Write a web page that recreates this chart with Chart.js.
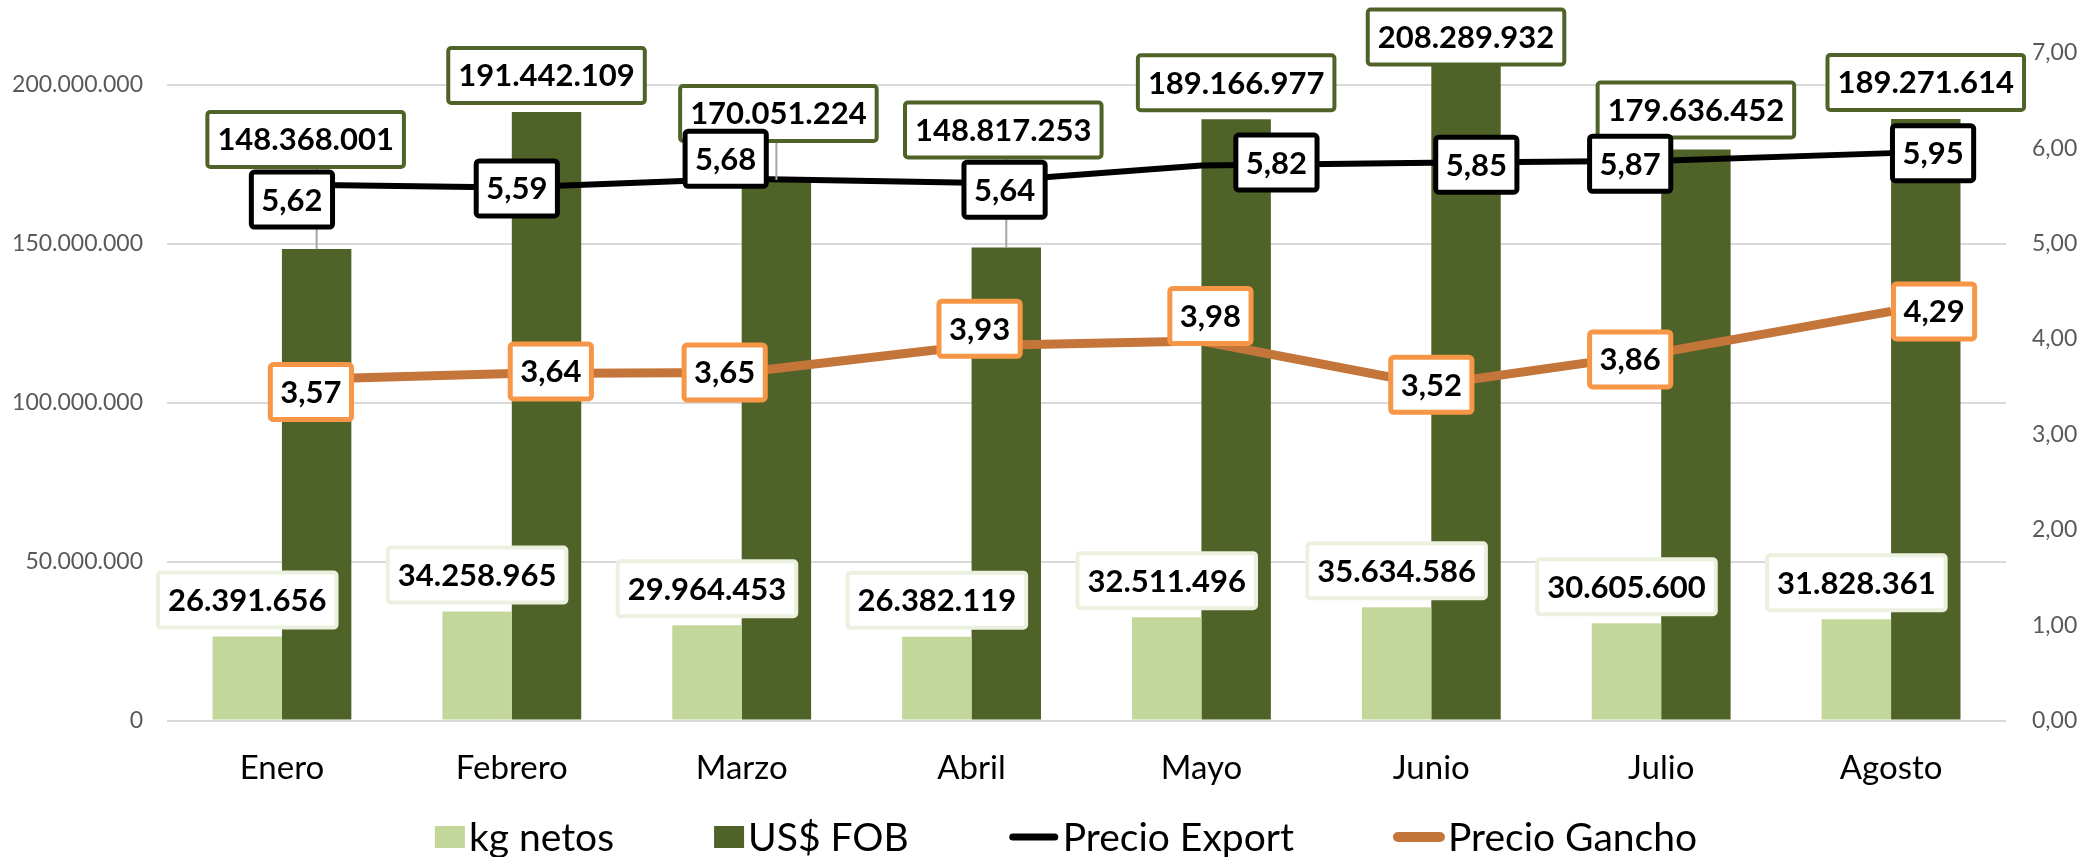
<!DOCTYPE html>
<html>
<head>
<meta charset="utf-8">
<script src="https://cdn.jsdelivr.net/npm/chart.js@4/dist/chart.umd.min.js"></script>
<style>
  html, body { margin: 0; padding: 0; background: #fff; }
  #wrap { width: 2082px; height: 857px; position: relative; }
</style>
</head>
<body>
<div id="wrap"><canvas id="exportChart"></canvas></div>
<script>
const meses = ['Enero', 'Febrero', 'Marzo', 'Abril', 'Mayo', 'Junio', 'Julio', 'Agosto'];
const kgNetos = [26391656, 34258965, 29964453, 26382119, 32511496, 35634586, 30605600, 31828361];
const usdFob = [148368001, 191442109, 170051224, 148817253, 189166977, 208289932, 179636452, 189271614];
const precioExport = [5.62, 5.59, 5.68, 5.64, 5.82, 5.85, 5.87, 5.95];
const precioGancho = [3.57, 3.64, 3.65, 3.93, 3.98, 3.52, 3.86, 4.29];
const ticksIzq = [0, 50000000, 100000000, 150000000, 200000000];
const ticksDer = [0, 1, 2, 3, 4, 5, 6, 7];

const fmtMiles = v => new Intl.NumberFormat('de-DE').format(v);
const fmtPrecio = v => v.toFixed(2).replace('.', ',');

// label boxes drawn on top of bars / line points
const boxLabels = {
    id: 'boxLabels',
    afterDatasetsDraw(chart, args, opts) {
        const ctx = chart.ctx;
        ctx.save();
        ctx.font = 'bold 31px Lato';
        ctx.textAlign = 'center';
        ctx.textBaseline = 'middle';
        const boxes = [];
        opts.sets.forEach(set => {
            const meta = chart.getDatasetMeta(set.index);
            const values = chart.data.datasets[set.index].data;
            meta.data.forEach((el, i) => {
                const text = set.format(values[i]);
                const w = ctx.measureText(text).width + 20;
                const h = 55;
                const off = set.offsets[i] || [0, 0];
                const cx = el.x + off[0];
                let cy = el.y + off[1];
                if (set.anchor === 'bar') cy = el.y - 9 - h / 2 + off[1];
                boxes.push({ text, w, h, cx, cy, el, set });
            });
        });
        // leader lines first
        ctx.strokeStyle = '#a6a6a6';
        ctx.lineWidth = 2;
        boxes.forEach(b => {
            if (b.set.anchor === 'bar' && b.el.y - (b.cy + b.h / 2) > 20) {
                ctx.beginPath();
                ctx.moveTo(b.el.x, b.cy + b.h / 2);
                ctx.lineTo(b.el.x, b.el.y);
                ctx.stroke();
            }
        });
        boxes.forEach(b => {
            ctx.beginPath();
            ctx.roundRect(b.cx - b.w / 2, b.cy - b.h / 2, b.w, b.h, 3);
            ctx.fillStyle = '#fff';
            ctx.fill();
            ctx.lineWidth = b.set.borderWidth;
            ctx.strokeStyle = b.set.border;
            ctx.stroke();
            ctx.fillStyle = '#000';
            ctx.fillText(b.text, b.cx, b.cy + 1);
        });
        ctx.restore();
    }
};

// legend drawn below the axis, same look as the original
const bottomLegend = {
    id: 'bottomLegend',
    afterDraw(chart, args, opts) {
        const ctx = chart.ctx;
        ctx.save();
        ctx.font = '39px Lato';
        ctx.textBaseline = 'middle';
        ctx.textAlign = 'left';
        const items = chart.data.datasets.map(ds => ({
            text: ds.label,
            line: ds.type === 'line',
            color: ds.type === 'line' ? ds.borderColor : ds.backgroundColor,
            lw: ds.borderWidth
        }));
        const swW = it => it.line ? 50 : 30;
        let total = 0;
        items.forEach((it, i) => {
            it.tw = ctx.measureText(it.text).width;
            total += swW(it) + 4 + it.tw + (i < items.length - 1 ? opts.gap : 0);
        });
        let x = opts.center - total / 2;
        const y = opts.y;
        items.forEach(it => {
            if (it.line) {
                ctx.strokeStyle = it.color;
                ctx.lineWidth = it.lw + 1;
                ctx.lineCap = 'round';
                ctx.beginPath();
                ctx.moveTo(x + 4, y);
                ctx.lineTo(x + swW(it) - 4, y);
                ctx.stroke();
            } else {
                ctx.fillStyle = it.color;
                ctx.fillRect(x, y - 11, 30, 22);
            }
            x += swW(it) + 4;
            ctx.fillStyle = '#000';
            ctx.fillText(it.text, x, y + 1);
            x += it.tw + opts.gap;
        });
        ctx.restore();
    }
};

new Chart(document.getElementById('exportChart'), {
    type: 'bar',
    data: {
        labels: meses,
        datasets: [
            { type: 'bar', label: 'kg netos', data: kgNetos, backgroundColor: '#c4d79b', yAxisID: 'y', order: 2 },
            { type: 'bar', label: 'US$ FOB', data: usdFob, backgroundColor: '#4f6228', yAxisID: 'y', order: 2 },
            { type: 'line', label: 'Precio Export', data: precioExport, borderColor: '#000000', borderWidth: 6,
              pointRadius: 0, tension: 0, yAxisID: 'y1', order: 1 },
            { type: 'line', label: 'Precio Gancho', data: precioGancho, borderColor: '#c4753a', borderWidth: 9,
              pointRadius: 0, tension: 0, yAxisID: 'y1', order: 0 }
        ]
    },
    options: {
        responsive: true,
        maintainAspectRatio: false,
        animation: false,
        layout: { padding: { top: 53, left: 0, right: 0, bottom: 56.5 } },
        datasets: { bar: { categoryPercentage: 0.604, barPercentage: 1 } },
        plugins: {
            legend: { display: false },
            tooltip: { enabled: false },
            boxLabels: {
                sets: [
                    { index: 1, anchor: 'bar', format: fmtMiles, border: '#4f6228', borderWidth: 4,
                      offsets: [[-11, -73], [0, 0], [2, -30], [-3, -81], [0, 0], [0, 15], [0, -3], [0, 0]] },
                    { index: 0, anchor: 'bar', format: fmtMiles, border: '#ebf1de', borderWidth: 4,
                      offsets: [] },
                    { index: 2, anchor: 'point', format: fmtPrecio, border: '#000000', borderWidth: 5,
                      offsets: [[10, 15], [5, 1], [-16, -20], [33, 7], [75, -3], [45, 2], [-31, 3], [42, 0]] },
                    { index: 3, anchor: 'point', format: fmtPrecio, border: '#f79646', borderWidth: 5,
                      offsets: [[29, 12], [39, -2], [-17, 0], [8, -17], [9, -25], [0, 0], [-31, 7], [43, 0]] }
                ]
            },
            bottomLegend: { center: 1066, y: 837, gap: 100 }
        },
        scales: {
            x: {
                grid: { display: false },
                border: { display: false },
                ticks: { color: '#000', font: { family: 'Lato', size: 33 }, padding: 20 },
                afterFit: s => { s.height = 80; }
            },
            y: {
                position: 'left',
                min: 0,
                max: 210000000,
                grid: { color: '#d9d9d9', lineWidth: 2, drawTicks: false },
                border: { display: false },
                ticks: {
                    color: '#595959',
                    padding: 24,
                    font: { family: 'Lato', size: 23 },
                    callback: v => fmtMiles(v)
                },
                afterBuildTicks: s => { s.ticks = ticksIzq.map(v => ({ value: v })); },
                afterFit: s => { s.width = 167; }
            },
            y1: {
                position: 'right',
                min: 0,
                max: 7,
                grid: { drawOnChartArea: false, drawTicks: false },
                border: { display: false },
                ticks: {
                    color: '#595959',
                    padding: 26,
                    font: { family: 'Lato', size: 23 },
                    callback: v => fmtPrecio(v)
                },
                afterBuildTicks: s => { s.ticks = ticksDer.map(v => ({ value: v })); },
                afterFit: s => { s.width = 76; }
            }
        }
    },
    plugins: [boxLabels, bottomLegend]
});
</script>
</body>
</html>
